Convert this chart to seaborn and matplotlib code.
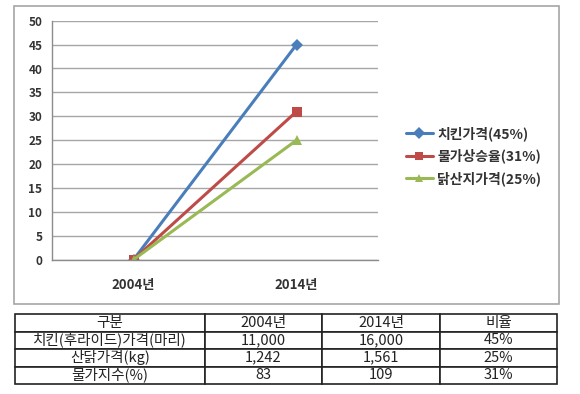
import numpy as np
import pandas as pd
import seaborn as sns
import matplotlib.pyplot as plt
from matplotlib.patches import Rectangle
from matplotlib.ticker import FixedLocator

# Data
years = ['2004년', '2014년']
series_names = ['치킨가격(45%)', '물가상승율(31%)', '닭산지가격(25%)']
chicken_price = [0, 45]
inflation = [0, 31]
farm_price = [0, 25]

table_header = ['구분', '2004년', '2014년', '비율']
table_rows = [
    ['치킨(후라이드)가격(마리)', '11,000', '16,000', '45%'],
    ['산닭가격(kg)', '1,242', '1,561', '25%'],
    ['물가지수(%)', '83', '109', '31%'],
]

colors = ['#4a7ebb', '#be4b48', '#98b954']
markers = ['D', 's', '^']

sns.set_style('white')
plt.rcParams['font.family'] = ['Noto Sans CJK KR', 'DejaVu Sans']

df = pd.DataFrame({
    'year': years * 3,
    'value': chicken_price + inflation + farm_price,
    'series': [s for s in series_names for _ in years],
})

W, H = 580, 394
fig = plt.figure(figsize=(W / 100, H / 100), dpi=100)

def px_axes(x0, y0, x1, y1):
    return fig.add_axes([x0 / W, 1 - y1 / H, (x1 - x0) / W, (y1 - y0) / H])

# chart frame
fig.patches.append(Rectangle((14 / W, 1 - 304 / H), 545 / W, 298 / H,
                             transform=fig.transFigure, fill=False,
                             edgecolor='#a6a6a6', linewidth=1.2))

ax = px_axes(52, 20.7, 378, 259.7)
sns.lineplot(data=df, x='year', y='value', hue='series', style='series',
             palette=colors, markers=markers, dashes=False, linewidth=2.2,
             markersize=6.5, markeredgewidth=0, sort=False, ax=ax, legend=False)

ax.set_xlim(-0.5, 1.5)
ax.set_ylim(0, 50)
ax.set_yticks(np.arange(0, 51, 5))
ax.yaxis.grid(True, color='#a6a6a6', linewidth=1)
ax.set_axisbelow(True)
for s in ['top', 'right']:
    ax.spines[s].set_visible(False)
for s in ['left', 'bottom']:
    ax.spines[s].set_color('#8c8c8c')
    ax.spines[s].set_linewidth(1)
ax.set_xlabel('')
ax.set_ylabel('')
ax.xaxis.set_minor_locator(FixedLocator([-0.5, 0.5, 1.5]))
ax.tick_params(axis='x', which='major', length=0, pad=13, labelsize=9.5)
ax.tick_params(axis='x', which='minor', length=4, color='#8c8c8c', direction='out')
ax.tick_params(axis='y', length=4, color='#8c8c8c', direction='out', labelsize=8.5, pad=3)
for lab in ax.get_xticklabels() + ax.get_yticklabels():
    lab.set_fontweight('bold')
    lab.set_color('#333333')

# legend
handles = [plt.Line2D([], [], color=c, marker=m, linewidth=2.2, markersize=6,
                      markeredgewidth=0) for c, m in zip(colors, markers)]
leg = fig.legend(handles, series_names, loc='center left',
                 bbox_to_anchor=(393 / W, 1 - 156 / H), frameon=False,
                 fontsize=10, handlelength=2.0, handletextpad=0.3,
                 labelspacing=0.55)
for t in leg.get_texts():
    t.set_fontweight('bold')
    t.set_color('#333333')

# data table
tax = px_axes(15, 314, 557, 384)
tax.axis('off')
tbl = tax.table(cellText=table_rows, colLabels=table_header, cellLoc='center',
                bbox=[0, 0, 1, 1], colWidths=[190, 117, 118, 117])
tbl.auto_set_font_size(False)
tbl.set_fontsize(10.5)
for cell in tbl.get_celld().values():
    cell.set_linewidth(1.2)
    cell.set_edgecolor('#222222')
    cell.get_text().set_color('#222222')

fig.savefig('out.png', dpi=100)
